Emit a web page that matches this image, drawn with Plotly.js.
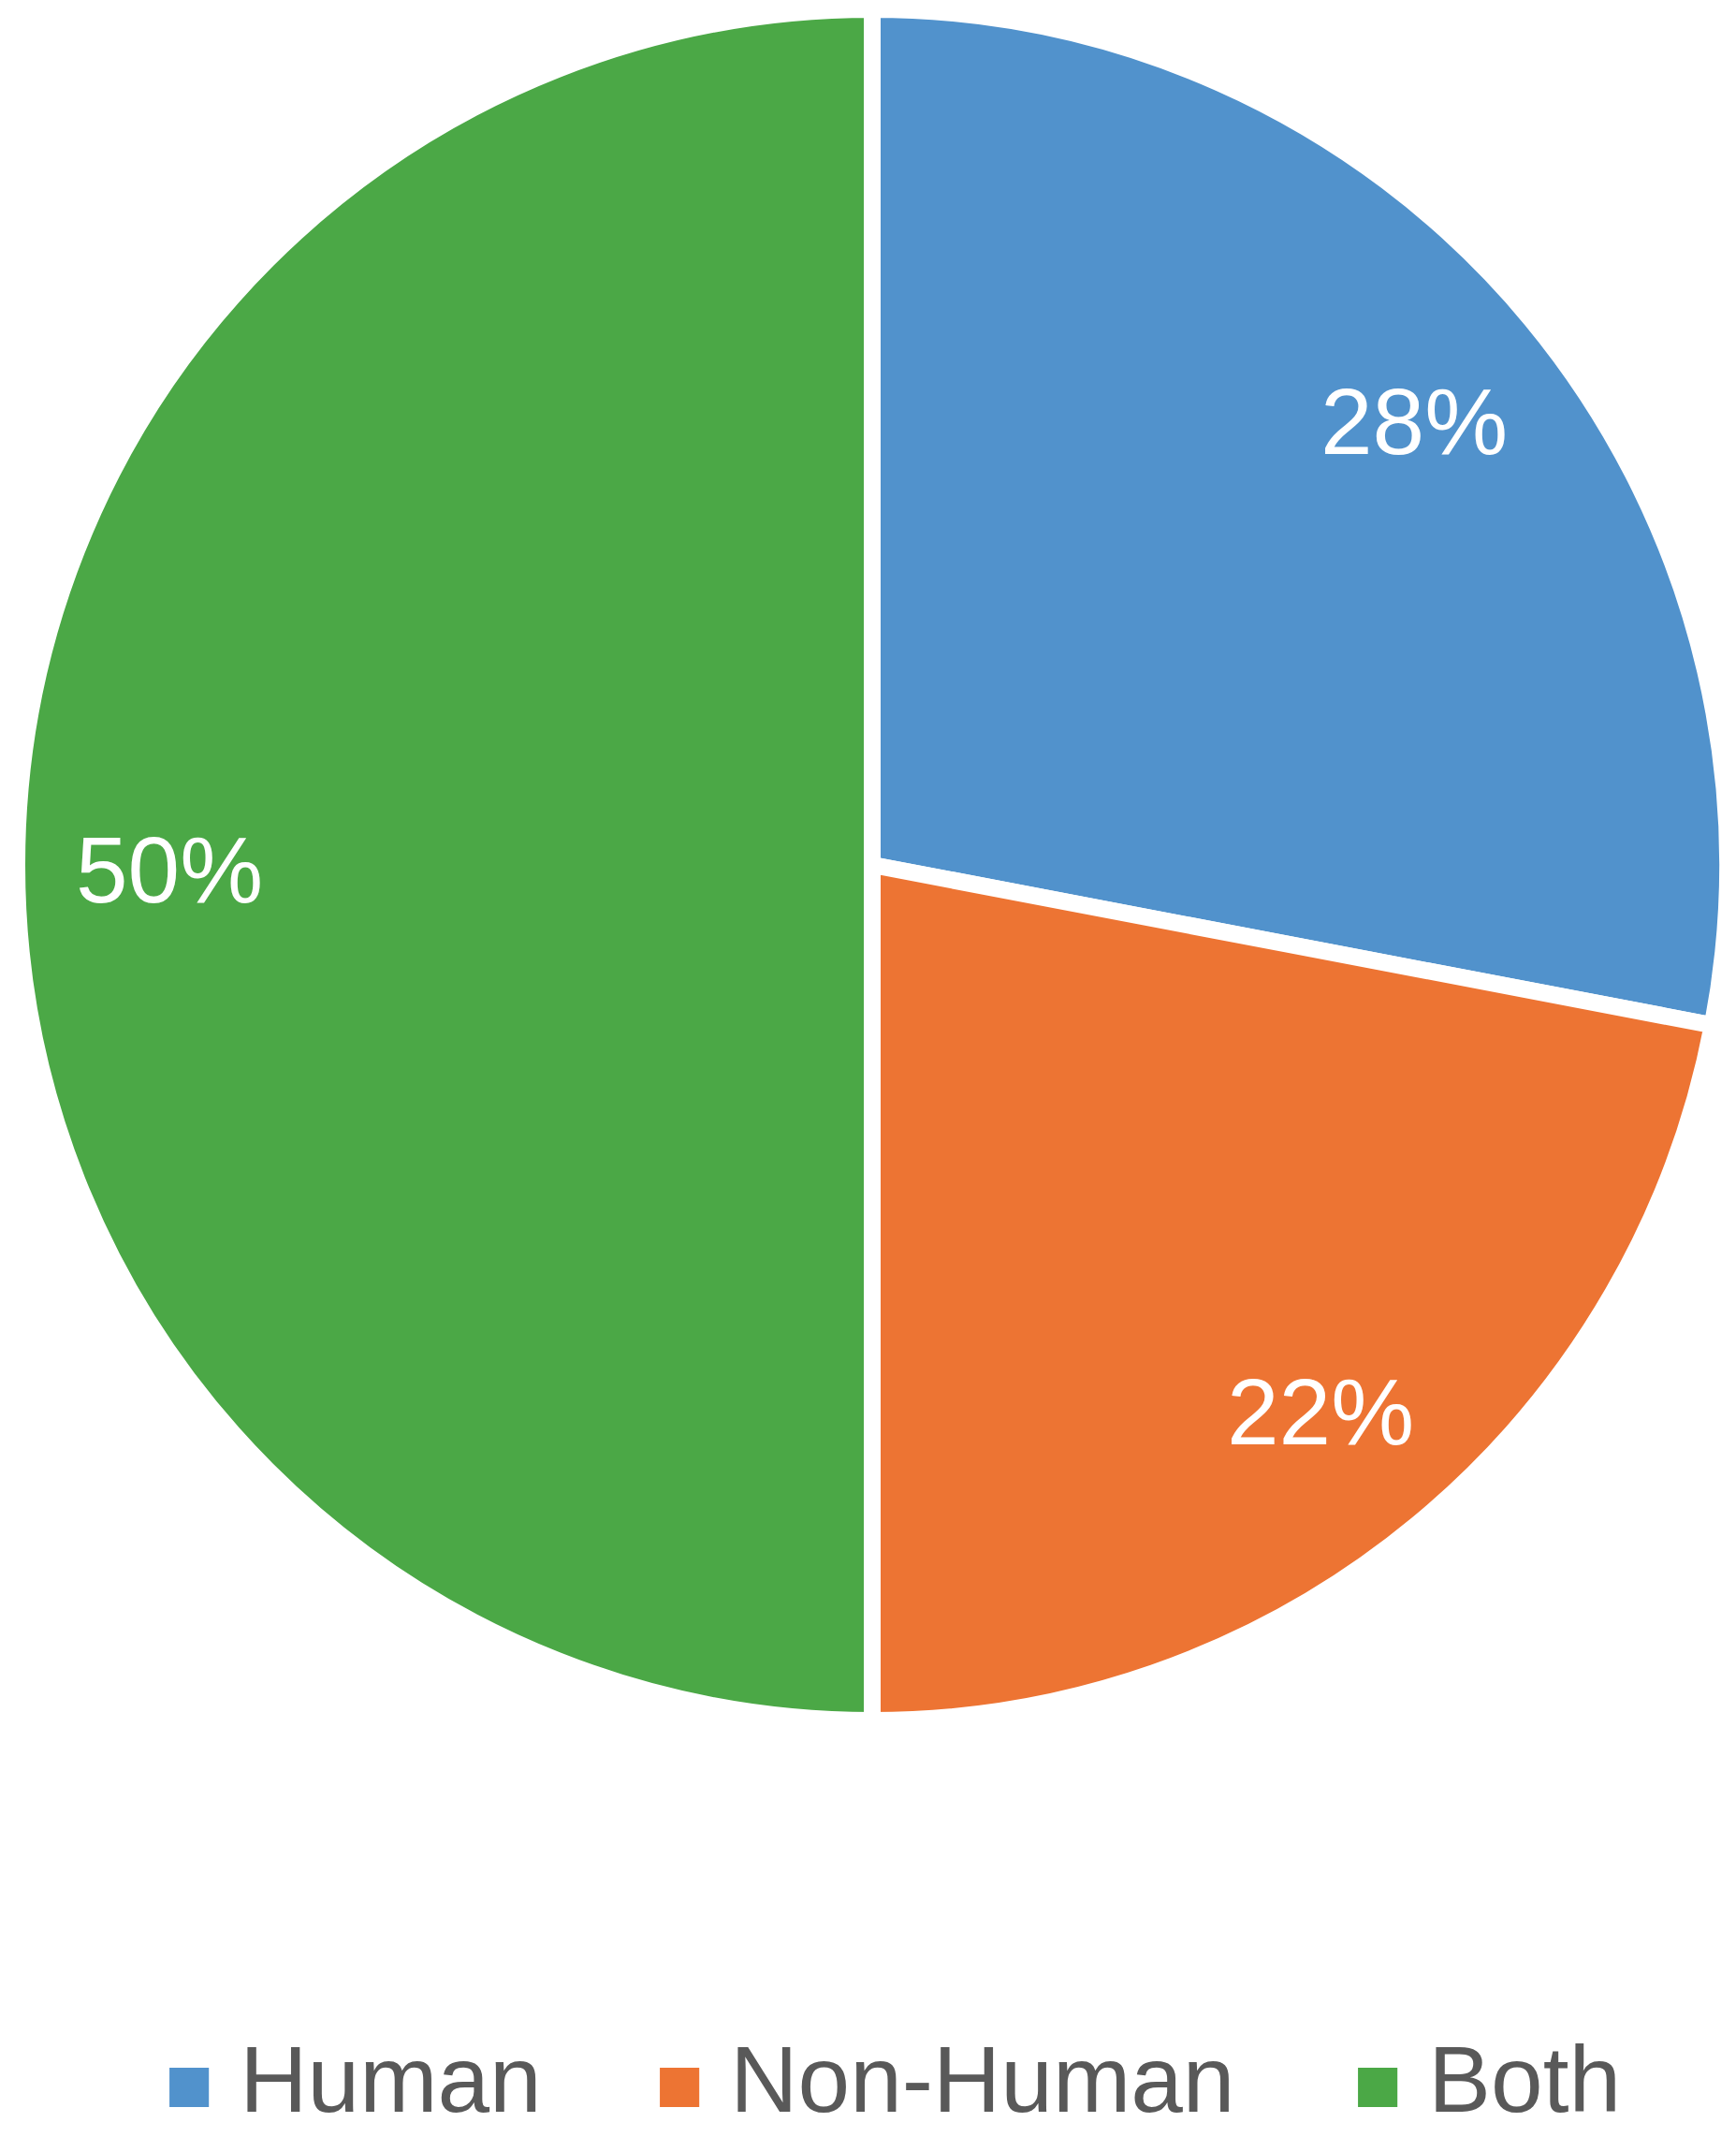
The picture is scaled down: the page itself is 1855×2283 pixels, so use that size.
<!DOCTYPE html>
<html>
<head>
<meta charset="utf-8">
<script src="https://cdn.plot.ly/plotly-3.0.1.min.js"></script>
<style>html,body{margin:0;padding:0;background:#fff;}#chart{width:1855px;height:2283px;}</style>
</head>
<body>
<div id="chart"></div>
<script>
// Data
var categories = ["Human", "Non-Human", "Both"];
var shares = [28, 22, 50];
var pctLabels = ["28%", "22%", "50%"];
var sliceColors = ["#5192cc", "#ed7433", "#4ba846"];

// Layout constants
var W = 1855, H = 2283;
var cx = 932, cy = 924, R = 905;   // visible pie centre / radius in px
var labelFrac = 0.83;
var labelDy = 5;                    // vertical nudge of slice labels (px)
var legendX = [175, 699, 1445];     // left edge of each legend item (px)
var legendY = 2221;

var pie = {
  type: "pie",
  labels: categories,
  values: shares,
  sort: false,
  direction: "clockwise",
  rotation: 0,
  marker: {colors: sliceColors, line: {color: "#ffffff", width: 18}},
  textinfo: "none",
  hoverinfo: "label+percent",
  domain: {x: [(cx - (R + 9)) / W, (cx + (R + 9)) / W], y: [1 - (cy + R + 9) / H, 1 - (cy - R - 9) / H]},
  showlegend: false
};

var annotations = [];
var total = shares.reduce(function (a, b) { return a + b; }, 0);
var cum = 0;
for (var i = 0; i < shares.length; i++) {
  var mid = (cum + shares[i] / 2) / total * 2 * Math.PI;
  cum += shares[i];
  var px = cx + labelFrac * R * Math.sin(mid);
  var py = cy - labelFrac * R * Math.cos(mid) + labelDy;
  annotations.push({
    xref: "paper", yref: "paper", x: px / W, y: 1 - py / H,
    xanchor: "center", yanchor: "middle", showarrow: false,
    text: pctLabels[i],
    font: {family: "Liberation Sans, Arial, sans-serif", size: 100, color: "#ffffff"}
  });
  annotations.push({
    xref: "paper", yref: "paper", x: legendX[i] / W, y: 1 - legendY / H,
    xanchor: "left", yanchor: "middle", showarrow: false, borderpad: 0,
    text: '<span style="color:' + sliceColors[i] + ';font-size:87px">■</span>\u00a0' + categories[i],
    font: {family: "Liberation Sans, Arial, sans-serif", size: 100, color: "#595959"}
  });
}

var layout = {
  width: W, height: H,
  margin: {l: 0, r: 0, t: 0, b: 0},
  paper_bgcolor: "#ffffff",
  showlegend: false,
  annotations: annotations
};

Plotly.newPlot("chart", [pie], layout, {displayModeBar: false, staticPlot: true});
</script>
</body>
</html>
